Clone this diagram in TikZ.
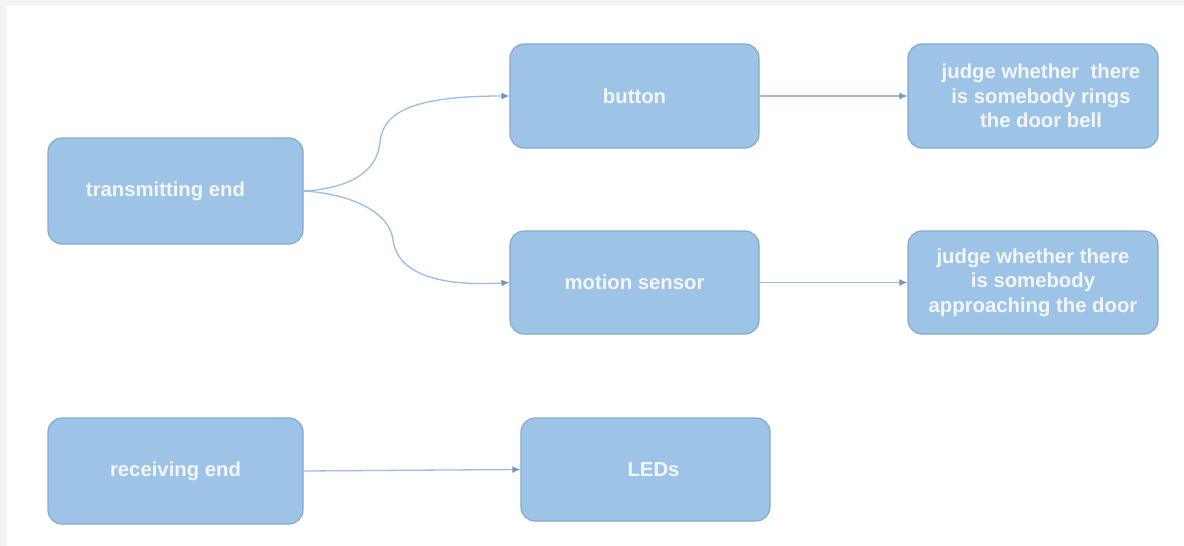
\documentclass[tikz,border=0pt]{standalone}
\usepackage{fontspec}
\setmainfont{Liberation Sans}
\usetikzlibrary{arrows.meta}
\definecolor{boxfill}{HTML}{9DC3E6}
\definecolor{boxline}{HTML}{84A9D2}
\definecolor{linkcol}{HTML}{9BBDE2}
\definecolor{tipcol}{HTML}{6F98C8}
\definecolor{txtcol}{HTML}{F2F6FB}
\definecolor{framegray}{HTML}{F4F4F4}
\tikzset{
  box/.style={draw=boxline, line width=1.2pt, fill=boxfill, rounded corners=14pt,
    inner sep=0pt, text=txtcol, font=\bfseries\fontsize{20.3}{24.5}\selectfont, align=center},
  link/.style={draw=linkcol, line width=1.3pt, -{Latex[length=8pt,width=7pt,color=tipcol]}}
}
\begin{document}
\begin{tikzpicture}[x=1pt,y=-1pt]
\fill[white] (0,0) rectangle (1184,546);
\fill[framegray] (0,0) rectangle (7,546);
\fill[framegray] (0,0) rectangle (1184,6);
\useasboundingbox (0,0) rectangle (1184,546);

\node[box, minimum width=255pt, minimum height=106pt] (tx) at (175.5,191) {\hspace*{-20pt}transmitting end};
\node[box, minimum width=255pt, minimum height=106pt] (rx) at (175.5,471) {receiving end};
\node[box, minimum width=249pt, minimum height=104pt] (btn) at (634.5,96) {button};
\node[box, minimum width=249pt, minimum height=103pt] (ms) at (634.5,282.5) {motion sensor};
\node[box, minimum width=250pt, minimum height=104pt] (j1) at (1033,96) {\hspace*{16pt}judge whether \ there\\\hspace*{16pt}is somebody rings\\\hspace*{16pt}the door bell};
\node[box, minimum width=250pt, minimum height=103pt] (j2) at (1033,282.5) {judge whether there\\is somebody\\approaching the door};
\node[box, minimum width=249pt, minimum height=103pt] (led) at (645.5,469.5) {LEDs\hspace*{-16pt}};

\draw[link] (tx.east) .. controls (342,189) and (377,176) .. (380,142) .. controls (383,110) and (418,96) .. (btn.west);
\draw[link] (tx.east) .. controls (342,193) and (389,208) .. (393,240) .. controls (397,272) and (436,287) .. (ms.west);
\draw[link] (btn.east) -- (j1.west);
\draw[link] (ms.east) -- (j2.west);
\draw[link] (rx.east) -- (led.west);
\end{tikzpicture}
\end{document}
